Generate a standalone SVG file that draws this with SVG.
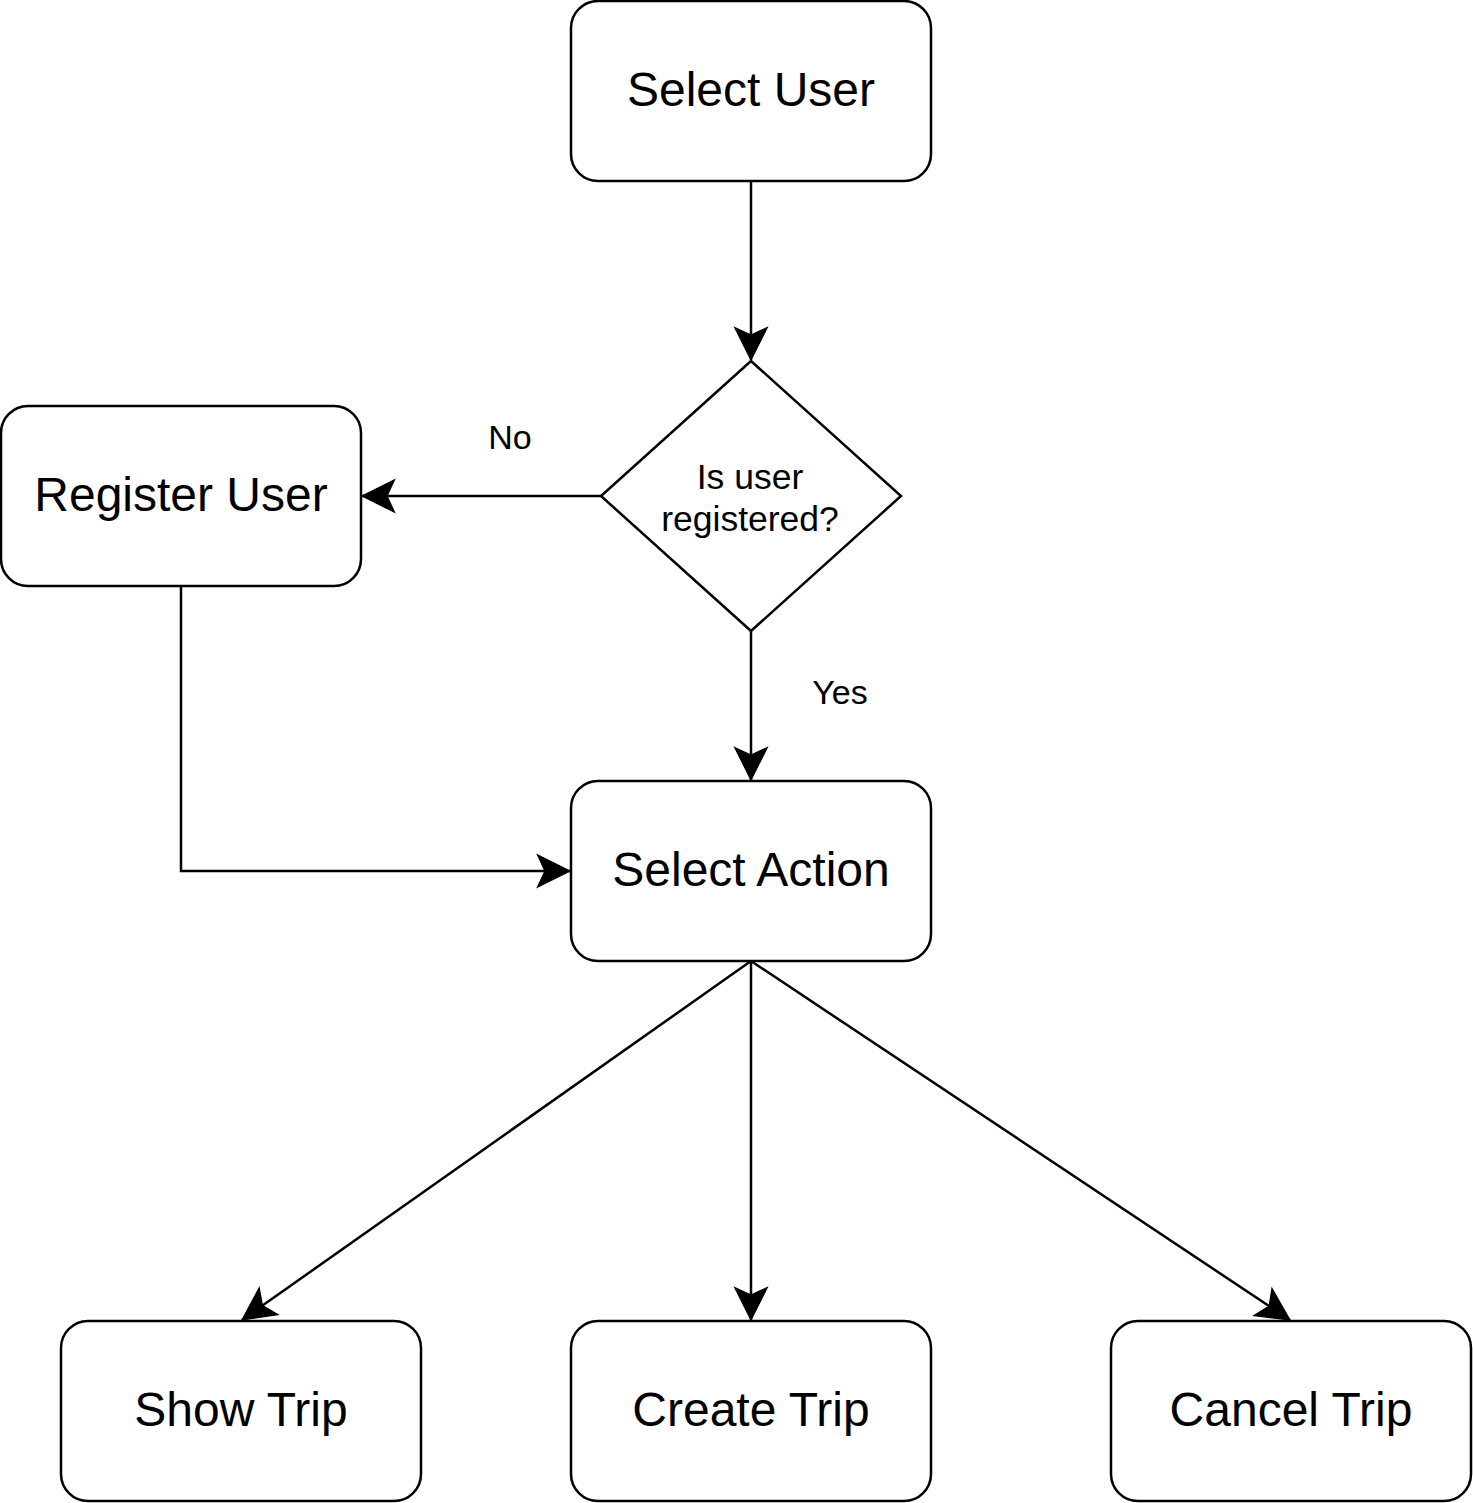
<svg xmlns="http://www.w3.org/2000/svg" width="1473" height="1503" viewBox="0 0 1473 1503">
<defs>
<style>
.box{fill:#fff;stroke:#000;stroke-width:2.5}
.t{font-family:"Liberation Sans",Arial,sans-serif;fill:#000;text-anchor:middle}
.big{font-size:48px}
.mid{font-size:34px}
.dia{font-size:35.5px}
.edge{fill:none;stroke:#000;stroke-width:2.5}
</style>
<marker id="arr" markerUnits="userSpaceOnUse" markerWidth="40" markerHeight="40" viewBox="-30 -15 32 30" refX="0" refY="0" orient="auto">
<path d="M0,0 L-26,-13 L-20,0 L-26,13 Z" fill="#000" stroke="#000" stroke-width="1"/>
</marker>
</defs>
<rect width="1473" height="1503" fill="#fff"/>
<g id="connectors">
<path class="edge" d="M751,181 L751,360" marker-end="url(#arr)"/>
<path class="edge" d="M601,496 L362,496" marker-end="url(#arr)"/>
<path class="edge" d="M751,631 L751,780" marker-end="url(#arr)"/>
<path class="edge" d="M181,586 L181,871 L570,871" marker-end="url(#arr)"/>
<path class="edge" d="M751,961 L242,1320" marker-end="url(#arr)"/>
<path class="edge" d="M751,961 L751,1320" marker-end="url(#arr)"/>
<path class="edge" d="M751,961 L1290,1320" marker-end="url(#arr)"/>
<text class="t mid" x="510" y="449">No</text>
<text class="t mid" x="840" y="704">Yes</text>
</g>
<g id="select-user">
<rect class="box" x="571" y="1" width="360" height="180" rx="27"/>
<text class="t big" x="751" y="106">Select User</text>
</g>
<g id="decision">
<path class="box" d="M751,361 L901,496 L751,631 L601,496 Z"/>
<text class="t dia" x="750" y="489">Is user</text>
<text class="t dia" x="750" y="531">registered?</text>
</g>
<g id="register-user">
<rect class="box" x="1" y="406" width="360" height="180" rx="27"/>
<text class="t big" x="181" y="511">Register User</text>
</g>
<g id="select-action">
<rect class="box" x="571" y="781" width="360" height="180" rx="27"/>
<text class="t big" x="751" y="886">Select Action</text>
</g>
<g id="show-trip">
<rect class="box" x="61" y="1321" width="360" height="180" rx="27"/>
<text class="t big" x="241" y="1426">Show Trip</text>
</g>
<g id="create-trip">
<rect class="box" x="571" y="1321" width="360" height="180" rx="27"/>
<text class="t big" x="751" y="1426">Create Trip</text>
</g>
<g id="cancel-trip">
<rect class="box" x="1111" y="1321" width="360" height="180" rx="27"/>
<text class="t big" x="1291" y="1426">Cancel Trip</text>
</g>
</svg>
